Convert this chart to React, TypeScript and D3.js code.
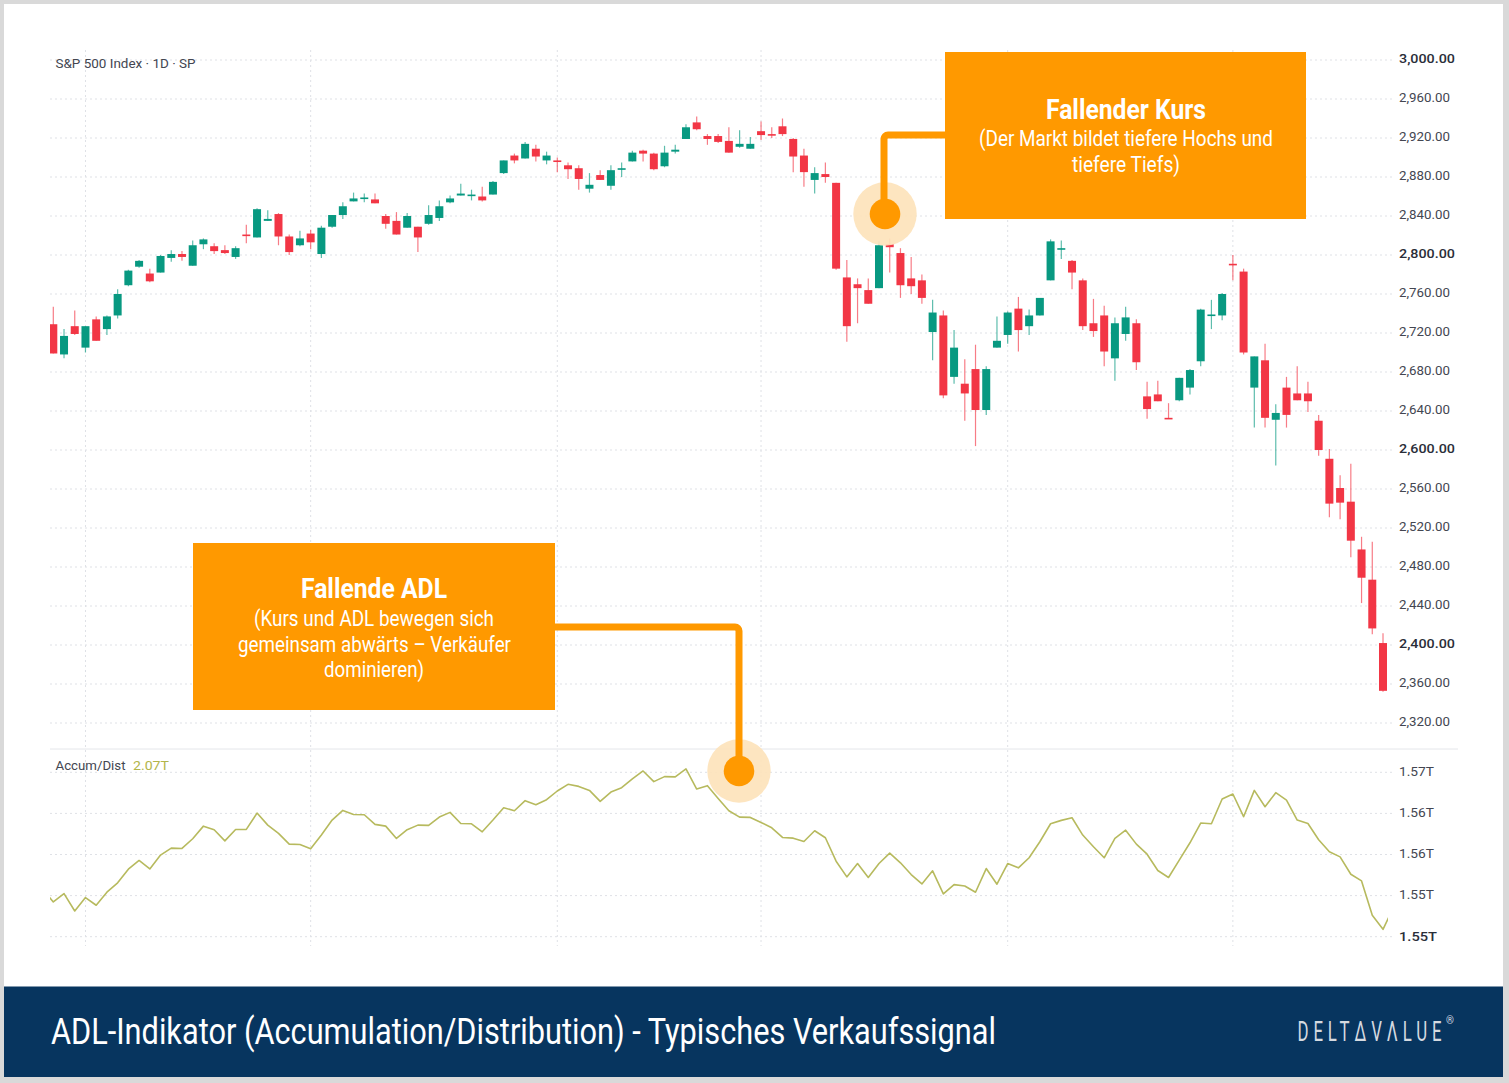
import React from 'react';
import * as d3 from 'd3';

const opens = [
  2729, 2698, 2727, 2705, 2734, 2724, 2738, 2769, 2788, 2781,
  2782, 2797, 2801, 2789, 2811, 2809, 2805, 2798, 2821, 2818,
  2835, 2842, 2819, 2810, 2822, 2801, 2829, 2841, 2855, 2858,
  2857, 2840, 2835, 2828, 2829, 2832, 2838, 2854, 2861, 2861,
  2860, 2862, 2884, 2902, 2899, 2909, 2897, 2897, 2892, 2889,
  2868, 2882, 2871, 2888, 2896, 2907, 2904, 2891, 2906, 2919,
  2936, 2922, 2922, 2917, 2911, 2909, 2927, 2924, 2932, 2919,
  2902, 2877, 2883, 2874, 2777, 2770, 2764, 2766, 2811, 2802,
  2776, 2774, 2721, 2738, 2675, 2668, 2683, 2641, 2705, 2718,
  2745, 2727, 2738, 2774, 2806, 2794, 2774, 2730, 2738, 2694,
  2719, 2730, 2655, 2657, 2633, 2651, 2664, 2691, 2738, 2738,
  2791, 2783, 2664, 2692, 2631, 2664, 2658, 2658, 2630, 2591,
  2561, 2547, 2498, 2467, 2402,
];
const closes = [
  2699, 2717, 2719, 2727, 2712, 2737, 2760, 2784, 2794, 2773,
  2799, 2801, 2798, 2810, 2816, 2804, 2802, 2807, 2820, 2847,
  2837, 2819, 2803, 2817, 2813, 2828, 2841, 2850, 2858, 2859,
  2853, 2832, 2821, 2840, 2818, 2841, 2850, 2858, 2863, 2862,
  2856, 2875, 2897, 2897, 2914, 2901, 2902, 2896, 2888, 2878,
  2872, 2877, 2887, 2889, 2905, 2904, 2888, 2905, 2908, 2931,
  2929, 2919, 2916, 2905, 2914, 2914, 2923, 2923, 2924, 2901,
  2885, 2884, 2880, 2786, 2727, 2766, 2750, 2810, 2808, 2769,
  2768, 2756, 2741, 2656, 2705, 2658, 2641, 2683, 2712, 2741,
  2723, 2738, 2756, 2814, 2807, 2782, 2727, 2722, 2701, 2730,
  2736, 2690, 2642, 2650, 2632, 2674, 2682, 2744, 2739, 2760,
  2790, 2700, 2696, 2633, 2638, 2636, 2651, 2650, 2600, 2545,
  2546, 2507, 2469, 2417, 2353,
];
const highs = [
  2747, 2724, 2743, 2727, 2737, 2738, 2765, 2785, 2795, 2786,
  2800, 2805, 2804, 2815, 2817, 2812, 2810, 2809, 2831, 2848,
  2846, 2843, 2821, 2825, 2826, 2830, 2841, 2854, 2864, 2863,
  2863, 2842, 2844, 2843, 2829, 2851, 2856, 2861, 2873, 2867,
  2870, 2876, 2897, 2904, 2916, 2913, 2906, 2900, 2895, 2892,
  2884, 2887, 2892, 2895, 2907, 2908, 2905, 2912, 2913, 2934,
  2942, 2924, 2924, 2931, 2928, 2921, 2937, 2931, 2940, 2920,
  2909, 2890, 2895, 2874, 2795, 2776, 2776, 2814, 2817, 2807,
  2798, 2780, 2754, 2743, 2723, 2693, 2708, 2686, 2737, 2742,
  2757, 2744, 2756, 2816, 2815, 2795, 2776, 2755, 2748, 2736,
  2747, 2734, 2670, 2671, 2648, 2674, 2683, 2745, 2754, 2761,
  2800, 2786, 2696, 2709, 2647, 2675, 2686, 2670, 2636, 2601,
  2574, 2586, 2511, 2506, 2412,
];
const lows = [
  2699, 2694, 2718, 2700, 2712, 2718, 2735, 2768, 2787, 2772,
  2782, 2793, 2794, 2789, 2806, 2801, 2801, 2796, 2812, 2818,
  2835, 2810, 2800, 2809, 2806, 2797, 2828, 2837, 2855, 2854,
  2853, 2827, 2821, 2828, 2803, 2831, 2835, 2853, 2861, 2856,
  2855, 2862, 2883, 2894, 2899, 2896, 2893, 2885, 2878, 2867,
  2864, 2877, 2867, 2880, 2896, 2896, 2887, 2890, 2904, 2919,
  2928, 2913, 2915, 2905, 2910, 2909, 2918, 2920, 2922, 2885,
  2870, 2863, 2874, 2785, 2711, 2730, 2750, 2766, 2782, 2756,
  2760, 2750, 2692, 2653, 2668, 2630, 2604, 2636, 2705, 2709,
  2701, 2718, 2738, 2774, 2796, 2765, 2723, 2716, 2686, 2671,
  2712, 2682, 2632, 2650, 2632, 2650, 2657, 2686, 2724, 2733,
  2774, 2698, 2623, 2623, 2584, 2623, 2651, 2639, 2594, 2531,
  2529, 2490, 2443, 2411, 2352,
];

// accum/dist in billions, first point sits one bar left of the pane edge
const adlValues = [
  1554.65, 1553.38, 1554.2, 1552.5, 1553.81, 1553.06, 1554.33, 1555.24, 1556.57, 1557.42,
  1556.6, 1557.94, 1558.62, 1558.59, 1559.53, 1560.76, 1560.41, 1559.33, 1560.44, 1560.44,
  1562.03, 1560.86, 1560.05, 1559.01, 1558.98, 1558.55, 1559.89, 1561.35, 1562.29, 1561.9,
  1561.87, 1560.93, 1560.76, 1559.56, 1560.41, 1560.86, 1560.83, 1561.64, 1562.1, 1561.02,
  1560.99, 1560.21, 1561.35, 1562.55, 1562.26, 1563.24, 1562.85, 1563.33, 1564.18, 1564.83,
  1564.63, 1564.24, 1563.17, 1564.08, 1564.5, 1565.35, 1566.13, 1565.09, 1565.58, 1565.55,
  1566.33, 1564.37, 1564.7, 1563.46, 1562.26, 1561.64, 1561.61, 1561.12, 1560.6, 1559.66,
  1559.59, 1559.27, 1560.31, 1559.63, 1557.35, 1555.82, 1557.12, 1555.76, 1557.12, 1558.13,
  1557.19, 1556.05, 1555.14, 1556.41, 1554.16, 1555.07, 1554.94, 1554.33, 1556.63, 1555.11,
  1557.12, 1556.7, 1557.68, 1559.24, 1560.99, 1561.32, 1561.58, 1559.89, 1558.75, 1557.68,
  1559.56, 1560.37, 1559.01, 1558.03, 1556.44, 1555.76, 1557.45, 1559.14, 1561.06, 1560.99,
  1563.4, 1563.89, 1561.68, 1564.24, 1562.65, 1564.02, 1563.3, 1561.35, 1561.02, 1559.43,
  1558.26, 1557.77, 1556.08, 1555.43, 1552.08, 1550.72, 1552.9,
];

const priceTicks = d3.range(3000, 2319, -40);
const adlTicks = [1566, 1562, 1558, 1554, 1550];
const dateGridBars = [3, 24, 47, 66, 89, 110];

const FONT = 'Roboto, sans-serif';
const ORANGE = '#ff9900';
const UP = '#089981';
const DOWN = '#f23645';
const ADL_COLOR = '#b7ba5e';
const GRID = '#dfe1e6';

const x = d3.scaleLinear().domain([0, opens.length - 1]).range([53.3, 1383]);
const y = d3.scaleLinear().domain([3000, 2320]).range([60, 723]);
const yAdl = d3.scaleLinear().domain([1566, 1550]).range([772.3, 936.7]);

const priceFormat = d3.format(',.2f');
const adlLine = d3.line<number>().x((_, i) => x(i - 1)).y((d) => yAdl(d));

// no condensed face installed, so squeeze Roboto to the measured width
function Fit(props: { x: number; y: number; w: number; size: number; fill: string; weight?: number; children: React.ReactNode }) {
  return (
    <text
      x={props.x}
      y={props.y}
      fontSize={props.size}
      fontWeight={props.weight || 400}
      fill={props.fill}
      fontFamily={FONT}
      textLength={props.w}
      lengthAdjust="spacingAndGlyphs"
    >
      {props.children}
    </text>
  );
}

function Marker({ cx, cy }: { cx: number; cy: number }) {
  return (
    <g>
      <circle cx={cx} cy={cy} r={31.7} fill="#fde3bb" fillOpacity={0.92} />
      <circle cx={cx} cy={cy} r={15.3} fill={ORANGE} />
    </g>
  );
}

export default function App() {
  return (
    <svg width={1509} height={1083} style={{ position: 'absolute', left: 0, top: 0 }}>
      <defs>
        <clipPath id="pane">
          <rect x={50} y={40} width={1338} height={910} />
        </clipPath>
      </defs>
      <rect width={1509} height={1083} fill="#d9d9d9" />
      <rect x={4} y={4} width={1499} height={983} fill="#ffffff" />

      {/* grid */}
      {priceTicks.map((t) => (
        <line key={t} x1={50} x2={1392} y1={y(t)} y2={y(t)} stroke={GRID} strokeWidth={1} strokeDasharray="2 3" />
      ))}
      {adlTicks.map((t) => (
        <line key={t} x1={50} x2={1392} y1={yAdl(t)} y2={yAdl(t)} stroke={GRID} strokeWidth={1} strokeDasharray="2 3" />
      ))}
      {dateGridBars.map((b) => (
        <g key={b}>
          <line x1={x(b)} x2={x(b)} y1={50} y2={748} stroke={GRID} strokeDasharray="2 3" />
          <line x1={x(b)} x2={x(b)} y1={750} y2={946} stroke={GRID} strokeDasharray="2 3" />
        </g>
      ))}
      <line x1={50} x2={1458} y1={749} y2={749} stroke="#e4e6ea" strokeWidth={1} />

      {/* candles */}
      <g clipPath="url(#pane)">
        {opens.map((o, i) => {
          const c = closes[i];
          const color = c >= o ? UP : DOWN;
          const top = y(Math.max(o, c));
          const h = Math.max(1.6, y(Math.min(o, c)) - top);
          return (
            <g key={i}>
              <line x1={x(i)} x2={x(i)} y1={y(highs[i])} y2={y(lows[i])} stroke={color} strokeWidth={1.2} strokeOpacity={0.65} />
              <rect x={x(i) - 4} y={top} width={8} height={h} fill={color} />
            </g>
          );
        })}
        <path d={adlLine(adlValues) || ''} fill="none" stroke={ADL_COLOR} strokeWidth={1.6} strokeLinejoin="round" />
      </g>

      {/* axis labels */}
      {priceTicks.map((t) => {
        const major = t % 200 === 0;
        return (
          <Fit key={t} x={1399} y={y(t) + 2.5} w={major ? 56 : 51} size={major ? 13 : 12} weight={major ? 500 : 400} fill={major ? '#2a2e39' : '#434651'}>
            {priceFormat(t)}
          </Fit>
        );
      })}
      {adlTicks.map((t, i) => {
        const last = i === adlTicks.length - 1;
        return (
          <Fit key={t} x={1399} y={yAdl(t) + 3.8} w={last ? 38 : 35} size={last ? 13 : 12} weight={last ? 500 : 400} fill={last ? '#2a2e39' : '#434651'}>
            {(t / 1000).toFixed(2) + 'T'}
          </Fit>
        );
      })}

      <Fit x={55.5} y={67.5} w={140} size={12.5} fill="#434651">S&amp;P 500 Index · 1D · SP</Fit>
      <Fit x={55.5} y={770} w={70} size={12.5} fill="#434651">Accum/Dist</Fit>
      <Fit x={133} y={770} w={36} size={12.5} fill="#b2b54a">2.07T</Fit>

      {/* callout price */}
      <Marker cx={885} cy={214} />
      <path d="M945,135H888a4,4 0 0 0 -4,4V214" fill="none" stroke={ORANGE} strokeWidth={7} />
      <rect x={945} y={52} width={361} height={167} fill={ORANGE} />
      <Fit x={1046} y={119} w={160} size={28} weight={700} fill="#ffffff">Fallender Kurs</Fit>
      <Fit x={979} y={146} w={294} size={22} fill="#ffffff">(Der Markt bildet tiefere Hochs und</Fit>
      <Fit x={1072} y={172} w={108} size={22} fill="#ffffff">tiefere Tiefs)</Fit>

      {/* callout adl */}
      <Marker cx={739} cy={771} />
      <path d="M555,627H735a4,4 0 0 1 4,4V771" fill="none" stroke={ORANGE} strokeWidth={7} />
      <rect x={193} y={543} width={362} height={167} fill={ORANGE} />
      <Fit x={301} y={598} w={146} size={28} weight={700} fill="#ffffff">Fallende ADL</Fit>
      <Fit x={254} y={626} w={240} size={22} fill="#ffffff">(Kurs und ADL bewegen sich</Fit>
      <Fit x={238} y={652} w={273} size={22} fill="#ffffff">gemeinsam abwärts – Verkäufer</Fit>
      <Fit x={324} y={677} w={100} size={22} fill="#ffffff">dominieren)</Fit>

      {/* footer */}
      <rect x={4} y={986.5} width={1499} height={90.5} fill="#07355f" />
      <Fit x={51} y={1044} w={945} size={36} fill="#ffffff">ADL-Indikator (Accumulation/Distribution) - Typisches Verkaufssignal</Fit>
      <g transform="translate(1297.5,1041) scale(0.6,1)">
        <text x={0} y={0} fontSize={28} fontWeight={400} fill="#d5dae0" fontFamily={FONT} textLength={240} lengthAdjust="spacing">DELTΔVΛLUE</text>
      </g>
      <text x={1446} y={1024} fontSize={10} fill="#d5dae0" fontFamily={FONT}>®</text>
    </svg>
  );
}
